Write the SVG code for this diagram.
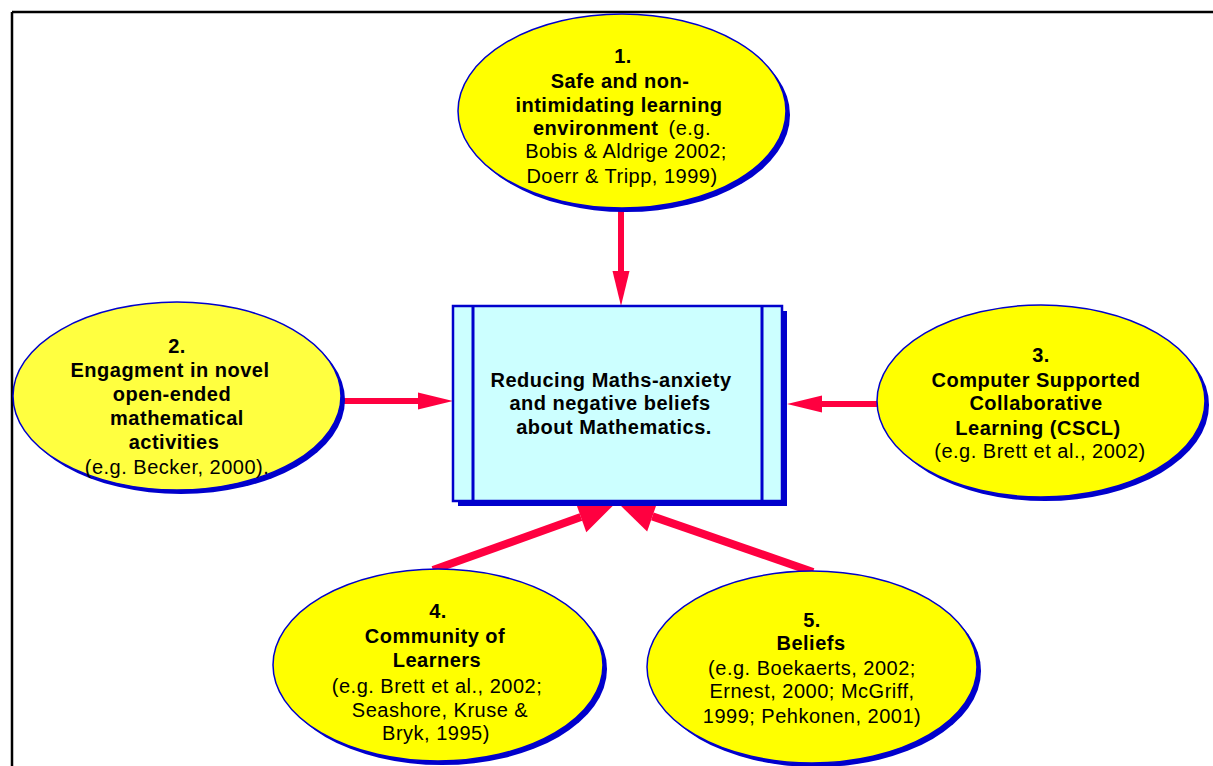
<svg xmlns="http://www.w3.org/2000/svg" width="1213" height="766" viewBox="0 0 1213 766">
<style>
  .frame{stroke:#000;stroke-width:2.5;fill:none}
  .shadow{fill:#0000CC}
  .ell{fill:#FFFF00;stroke:#0000CC;stroke-width:1.5}
  .box{fill:#CCFFFF;stroke:#0000CC;stroke-width:2.5}
  .bar{stroke:#0000CC;stroke-width:3}
  .conn{stroke:#FF0040;fill:none}
  text{font-family:"Liberation Sans",Arial,sans-serif;font-size:20px;letter-spacing:0.5px;fill:#000;text-anchor:middle}
  .b{font-weight:bold}
</style>
<defs>
  <marker id="headS" markerUnits="userSpaceOnUse" markerWidth="36" markerHeight="20" refX="0" refY="10" orient="auto" overflow="visible">
    <path d="M0,1.5 L35,10 L0,18.5 Z" fill="#FF0040"/>
  </marker>
  <marker id="headL" markerUnits="userSpaceOnUse" markerWidth="36" markerHeight="34" refX="0" refY="17" orient="auto" overflow="visible">
    <path d="M0,1 L34,17 L0,33 Z" fill="#FF0040"/>
  </marker>
</defs>
<g id="frame">
  <line class="frame" x1="12" y1="12" x2="1213" y2="12"/>
  <line class="frame" x1="12" y1="12" x2="12" y2="766"/>
</g>
<g id="connectors">
  <line class="conn" stroke-width="6" x1="621" y1="205" x2="621" y2="271" marker-end="url(#headS)"/>
  <line class="conn" stroke-width="6" x1="335" y1="401" x2="418" y2="401" marker-end="url(#headS)"/>
  <line class="conn" stroke-width="6" x1="882" y1="404" x2="822" y2="404" marker-end="url(#headS)"/>
  <line class="conn" stroke-width="8" x1="433" y1="570" x2="580.9" y2="517.1" marker-end="url(#headL)"/>
  <line class="conn" stroke-width="8" x1="813" y1="572" x2="652.4" y2="516.4" marker-end="url(#headL)"/>
</g>
<g id="center">
  <rect class="shadow" x="458" y="311" width="329" height="195"/>
  <rect class="box" x="453" y="306" width="329" height="195"/>
  <line class="bar" x1="473" y1="306" x2="473" y2="501"/>
  <line class="bar" x1="762" y1="306" x2="762" y2="501"/>
  <text class="b" x="611" y="387">Reducing Maths-anxiety</text>
  <text class="b" x="610" y="410">and negative beliefs</text>
  <text class="b" x="614" y="434">about Mathematics.</text>
</g>
<g id="node1">
  <ellipse class="shadow" cx="626" cy="115" rx="164" ry="97"/>
  <ellipse class="ell" cx="622" cy="111" rx="164" ry="97"/>
  <text class="b" x="623" y="63">1.</text>
  <text class="b" x="620" y="88">Safe and non-</text>
  <text class="b" x="619" y="112">intimidating learning</text>
  <text x="622" y="135"><tspan class="b">environment</tspan><tspan dx="10">(e.g.</tspan></text>
  <text x="626" y="158">Bobis &amp; Aldrige 2002;</text>
  <text x="622" y="183">Doerr &amp; Tripp, 1999)</text>
</g>
<g id="node2">
  <ellipse class="shadow" cx="181" cy="400" rx="164" ry="94"/>
  <ellipse class="ell" cx="177" cy="396" rx="164" ry="94" style="fill:#FFFF40"/>
  <text class="b" x="177" y="353">2.</text>
  <text class="b" x="170" y="377">Engagment in novel</text>
  <text class="b" x="172" y="401">open-ended</text>
  <text class="b" x="177" y="425">mathematical</text>
  <text class="b" x="174" y="449">activities</text>
  <text x="177" y="474">(e.g. Becker, 2000).</text>
</g>
<g id="node3">
  <ellipse class="shadow" cx="1045" cy="405" rx="164" ry="96"/>
  <ellipse class="ell" cx="1041" cy="401" rx="164" ry="96"/>
  <text class="b" x="1041" y="362">3.</text>
  <text class="b" x="1036" y="387">Computer Supported</text>
  <text class="b" x="1036" y="410">Collaborative</text>
  <text class="b" x="1038" y="435">Learning (CSCL)</text>
  <text x="1040" y="458">(e.g. Brett et al., 2002)</text>
</g>
<g id="node4">
  <ellipse class="shadow" cx="442" cy="669" rx="165" ry="96"/>
  <ellipse class="ell" cx="438" cy="665" rx="165" ry="96"/>
  <text class="b" x="438" y="618">4.</text>
  <text class="b" x="435" y="643">Community of</text>
  <text class="b" x="437" y="667">Learners</text>
  <text x="437" y="693">(e.g. Brett et al., 2002;</text>
  <text x="440" y="717">Seashore, Kruse &amp;</text>
  <text x="436" y="740">Bryk, 1995)</text>
</g>
<g id="node5">
  <ellipse class="shadow" cx="816" cy="671" rx="165" ry="96"/>
  <ellipse class="ell" cx="812" cy="667" rx="165" ry="96"/>
  <text class="b" x="812" y="627">5.</text>
  <text class="b" x="811" y="650">Beliefs</text>
  <text x="812" y="675">(e.g. Boekaerts, 2002;</text>
  <text x="812" y="698">Ernest, 2000; McGriff,</text>
  <text x="812" y="723">1999; Pehkonen, 2001)</text>
</g>
</svg>
